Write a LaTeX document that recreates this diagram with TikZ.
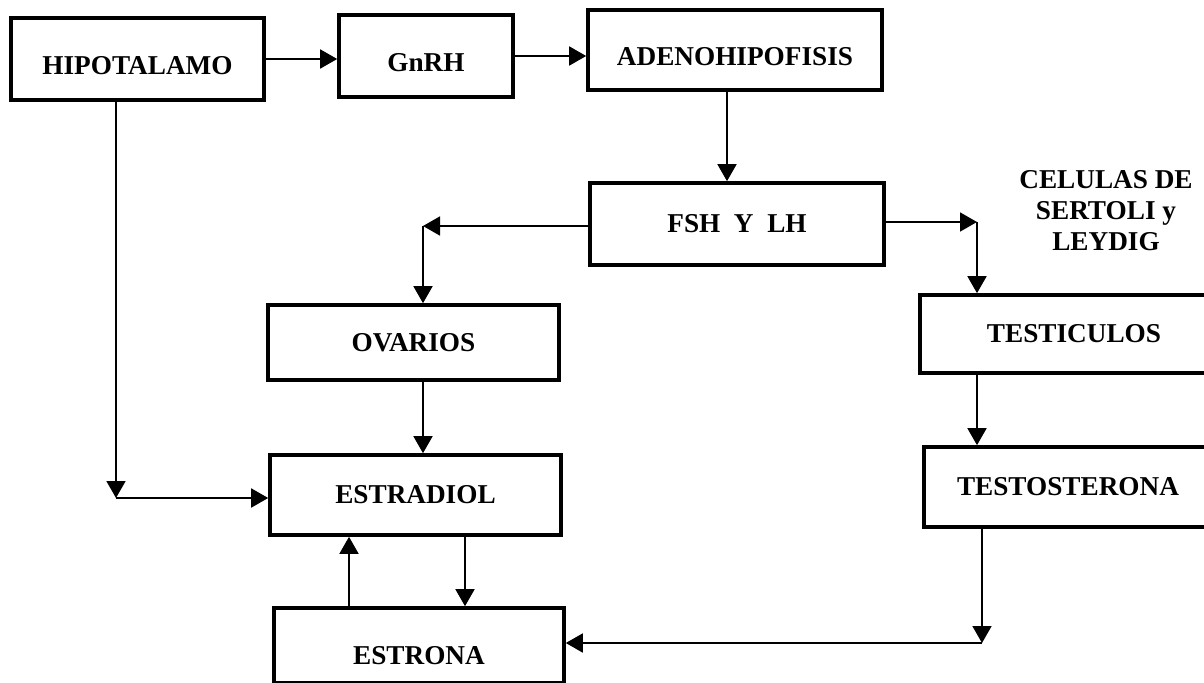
\documentclass[tikz,border=0pt]{standalone}
\usepackage{fontspec}
\setmainfont{Liberation Serif}
\usetikzlibrary{arrows.meta,positioning,calc}

\begin{document}
\begin{tikzpicture}[x=0.02cm, y=-0.02cm, >={Triangle[length=3.4mm,width=3.8mm]},
    box/.style={draw, line width=2.1pt, align=center, font=\fontsize{15.5}{17.6}\selectfont\bfseries},
    low/.style={text height=#1, text depth=0pt},
    link/.style={->, line width=1pt}]
    \clip (0,0) rectangle (1204,683);

    \node[box, low=0.64cm, minimum width=5.06cm, minimum height=1.64cm] (hipo) at (137.5,59) {HIPOTALAMO};
    \node[box, low=0.64cm, minimum width=3.48cm, minimum height=1.64cm] (gnrh) at (426,56) {GnRH};
    \node[box, low=0.64cm, minimum width=5.88cm, minimum height=1.6cm] (adeno) at (735,50) {ADENOHIPOFISIS};
    \node[box, minimum width=5.88cm, minimum height=1.64cm] (fsh) at (737,224) {FSH\ \ Y\ \ LH};
    \node[box, minimum width=5.82cm, minimum height=1.5cm] (ovarios) at (413.5,342.5) {OVARIOS};
    \node[box, minimum width=5.82cm, minimum height=1.6cm] (estradiol) at (415.5,495) {ESTRADIOL};
    \node[box, low=0.76cm, minimum width=5.8cm, minimum height=1.5cm] (estrona) at (419,645.5) {ESTRONA};
    \node[box, minimum width=6.16cm, minimum height=1.56cm] (testiculos) at (1074,334) {TESTICULOS};
    \node[box, minimum width=5.76cm, minimum height=1.6cm] (testosterona) at (1068,487) {TESTOSTERONA};
    \node[align=center, font=\fontsize{15.5}{17.6}\selectfont\bfseries] (celulas) at (1106,211) {CELULAS DE\\SERTOLI y\\LEYDIG};

    % corners and feet of the connectors
    \coordinate (cl) at (423,226);
    \coordinate (cr) at (977,222);
    \coordinate (ch) at (116,498);
    \coordinate (cb) at (982,643);
    \coordinate (down) at (465,0);
    \coordinate (up) at (349,0);

    \draw[link] (hipo.east) -- (hipo.east -| gnrh.west);
    \draw[link] (gnrh.east) -- (gnrh.east -| adeno.west);
    \draw[link] ([xshift=-0.16cm]adeno.south) -- ([xshift=-0.16cm]adeno.south |- fsh.north);
    \draw[link] (fsh.west |- cl) -- (cl);
    \draw[link] (cl) -- (cl |- ovarios.north);
    \draw[link] (fsh.east |- cr) -- (cr);
    \draw[link] (cr) -- (cr |- testiculos.north);
    \draw[link] (ovarios.south -| cl) -- (estradiol.north -| cl);
    \draw[link] (hipo.south -| ch) -- (ch);
    \draw[link] (ch) -- (ch -| estradiol.west);
    \draw[link] (estradiol.south -| down) -- (estrona.north -| down);
    \draw[link] (estrona.north -| up) -- (estradiol.south -| up);
    \draw[link] (testiculos.south -| cr) -- (testosterona.north -| cr);
    \draw[link] (testosterona.south -| cb) -- (cb);
    \draw[link] (cb) -- (cb -| estrona.east);
\end{tikzpicture}
\end{document}
